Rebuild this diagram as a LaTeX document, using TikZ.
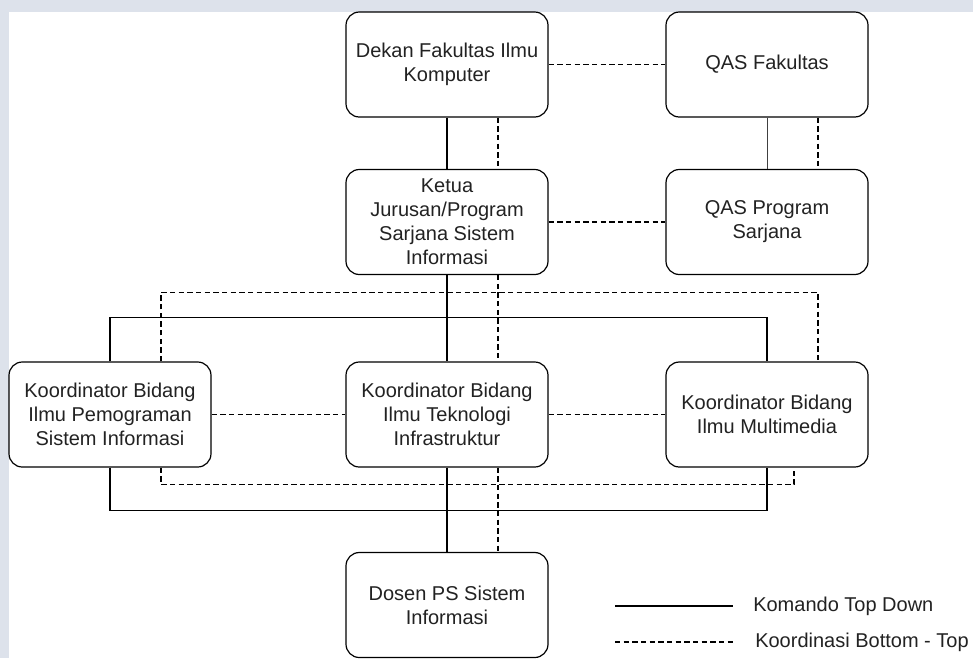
\documentclass[tikz,border=0pt]{standalone}
\usepackage{fontspec}
\setmainfont{Liberation Sans}
\usetikzlibrary{calc}
\definecolor{bgstrip}{HTML}{DDE2EB}
\definecolor{txt}{HTML}{222222}
\tikzset{
  box/.style={draw=black, line width=0.9pt, rounded corners=10pt, fill=white,
    minimum width=151.5pt, minimum height=78.75pt, inner sep=0pt,
    align=center, text=txt, font=\fontsize{15pt}{18pt}\selectfont},
  cmd/.style={draw=black, line width=0.8pt},
  cmdthin/.style={draw=black!75, line width=0.5pt},
  crd/.style={draw=black, line width=0.8pt, dash pattern=on 4pt off 2.5pt},
  legtext/.style={anchor=west, inner sep=0pt, text=txt, font=\fontsize{15pt}{18pt}\selectfont}
}
\begin{document}
\begin{tikzpicture}[x=0.75pt, y=-0.75pt]
\useasboundingbox (0,0) rectangle (973,658);
\fill[bgstrip] (0,0) rectangle (973,658);
\fill[white] (9,12) rectangle (973,658);
\begin{scope}
\clip (0,0) rectangle (973,658);
% nodes
\node[box] (dekan) at (447,64.5) {Dekan Fakultas Ilmu\\Komputer};
\node[box] (qasf) at (767,64.5) {QAS Fakultas};
\node[box] (ketua) at (447,222) {Ketua\\Jurusan/Program\\Sarjana Sistem\\Informasi};
\node[box] (qasp) at (767,222) {QAS Program\\Sarjana};
\node[box] (kleft) at (110,414.5) {Koordinator Bidang\\Ilmu Pemograman\\Sistem Informasi};
\node[box] (kmid) at (447,414.5) {Koordinator Bidang\\Ilmu Teknologi\\Infrastruktur};
\node[box] (kright) at (767,414.5) {Koordinator Bidang\\Ilmu Multimedia};
\node[box] (dosen) at (447,605) {Dosen PS Sistem\\Informasi};

% horizontal coordination lines
\draw[crd] (dekan.east) -- (qasf.west);
\draw[crd] (ketua.east) -- (qasp.west);
\draw[crd] (kleft.east) -- (kmid.west);
\draw[crd] (kmid.east) -- (kright.west);

% Dekan - Ketua
\draw[cmd] (dekan.south) -- (ketua.north);
\draw[crd] ($(dekan.south)+(51,0)$) -- ($(ketua.north)+(51,0)$);
% QAS Fakultas - QAS Program
\draw[cmdthin] (qasf.south) -- (qasp.north);
\draw[crd] ($(qasf.south)+(51,0)$) -- ($(qasp.north)+(51,0)$);

% Ketua - koordinators (command)
\draw[cmd] (ketua.south) -- (kmid.north);
\draw[cmd] (kleft.north) -- ++(0,-44) -| (kright.north);
% Ketua - koordinators (coordination)
\draw[crd] ($(ketua.south)+(51,0)$) -- ($(kmid.north)+(51,0)$);
\draw[crd] ($(kleft.north)+(51,0)$) -- ++(0,-69) -| ($(kright.north)+(51,0)$);

% koordinators - dosen (command)
\draw[cmd] (kmid.south) -- (dosen.north);
\draw[cmd] (kleft.south) -- ++(0,43) -| (kright.south);
% koordinators - dosen (coordination)
\draw[crd] ($(kmid.south)+(51,0)$) -- ($(dosen.north)+(51,0)$);
\draw[crd] ($(kleft.south)+(51,0)$) -- ++(0,17) -| ($(kright.south)+(27,0)$);

% legend
\coordinate (la1) at (615,606);
\coordinate (la2) at (733,606);
\coordinate (lb1) at (615,642);
\coordinate (lb2) at (733,642);
\draw[cmd] (la1) -- (la2);
\draw[crd] (lb1) -- (lb2);
\node[legtext] (lt1) at (753,606) {Komando Top Down};
\node[legtext] (lt2) at (755,642) {Koordinasi Bottom - Top};
\end{scope}
\end{tikzpicture}
\end{document}
